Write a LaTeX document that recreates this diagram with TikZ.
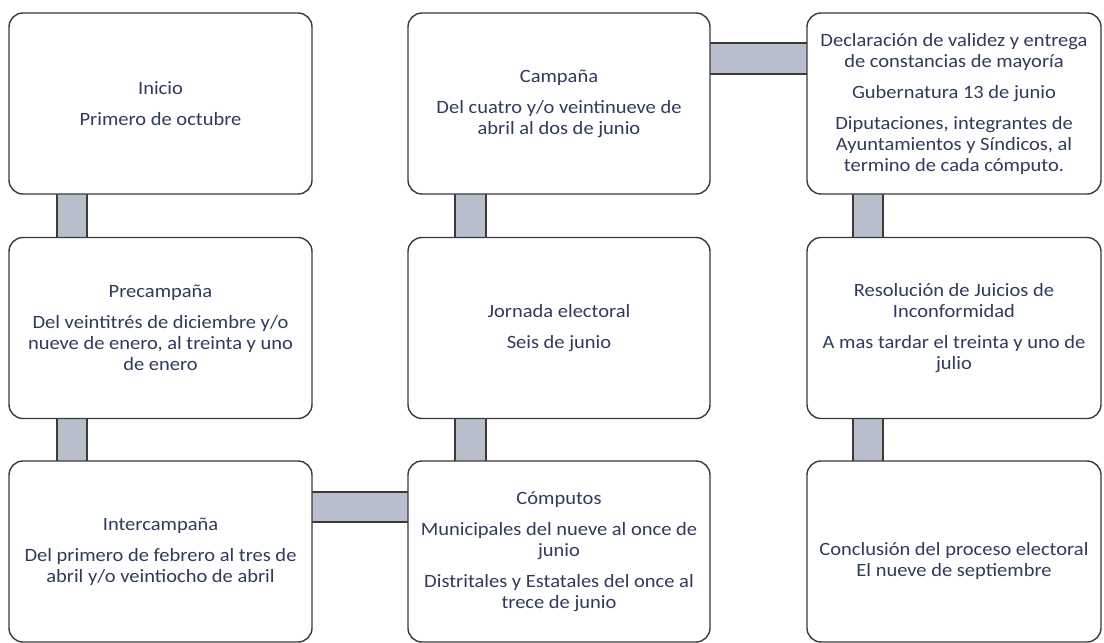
\documentclass[tikz,border=0pt]{standalone}
\usepackage{fontspec}
\setmainfont{Carlito}[FakeStretch=1.09]
\usetikzlibrary{calc}
\definecolor{txt}{HTML}{2F3B5A}
\definecolor{edge}{HTML}{3A3A3A}
\definecolor{barfill}{HTML}{B8BECC}
\tikzset{
  stage/.style={draw=edge, line width=1.4pt, rounded corners=14pt, fill=white,
    minimum width=#1, minimum height=181pt, inner sep=0pt, outer sep=0pt},
  label/.style={text=txt, align=center, font=\fontsize{18.8}{21}\selectfont},
  bar/.style={draw=edge, line width=1.2pt, fill=barfill}
}
\newcommand{\pg}{\\[10pt]}
\begin{document}
\begin{tikzpicture}[x=1pt,y=-1pt]
\useasboundingbox (0,0) rectangle (1104,643);
\fill[white] (0,0) rectangle (1104,643);
% connectors (behind)
\coordinate (v1a) at (57,190); \coordinate (v1b) at (87,241);
\coordinate (v2a) at (57,415); \coordinate (v2b) at (87,466);
\coordinate (v3a) at (455,190); \coordinate (v3b) at (486,241);
\coordinate (v4a) at (455,415); \coordinate (v4b) at (486,466);
\coordinate (v5a) at (853,190); \coordinate (v5b) at (883,241);
\coordinate (v6a) at (853,415); \coordinate (v6b) at (883,466);
\coordinate (h1a) at (308,492); \coordinate (h1b) at (412,522);
\coordinate (h2a) at (706,43); \coordinate (h2b) at (811,74);
\foreach \p in {v1,v2,v3,v4,v5,v6,h1,h2}
  \draw[bar] (\p a) rectangle (\p b);
% boxes
\node[stage=303pt] (inicio) at (160.5,103.5) {};
\node[stage=303pt] (pre) at (160.5,328) {};
\node[stage=303pt] (inter) at (160.5,551.5) {};
\node[stage=302pt] (camp) at (559,103.5) {};
\node[stage=302pt] (jorn) at (559,328) {};
\node[stage=302pt] (comp) at (559,551.5) {};
\node[stage=294pt] (decl) at (954,103.5) {};
\node[stage=294pt] (resol) at (954,328) {};
\node[stage=294pt] (concl) at (954,551.5) {};
% texts
\node[label] (t1) at (inicio) {Inicio\pg Primero de octubre};
\node[label] (t2) at (pre) {Precampaña\pg Del veintitrés de diciembre y/o\\nueve de enero, al treinta y uno\\de enero};
\node[label] (t3) at (inter) {Intercampaña\pg Del primero de febrero al tres de\\abril y/o veintiocho de abril};
\node[label] (t4) at (camp) {Campaña\pg Del cuatro y/o veintinueve de\\abril al dos de junio};
\node[label] (t5) at (jorn) {Jornada electoral\pg Seis de junio};
\node[label] (t6) at (comp) {Cómputos\pg Municipales del nueve al once de\\junio\pg Distritales y Estatales del once al\\trece de junio};
\node[label] (t7) at (decl) {Declaración de validez y entrega\\de constancias de mayoría\pg Gubernatura 13 de junio\pg Diputaciones, integrantes de\\Ayuntamientos y Síndicos, al\\termino de cada cómputo.};
\node[label] (t8) at (resol) {Resolución de Juicios de\\Inconformidad\pg A mas tardar el treinta y uno de\\julio};
\node[label] (t9) at ($(concl)+(0,9)$) {Conclusión del proceso electoral\\El nueve de septiembre};
\end{tikzpicture}
\end{document}
